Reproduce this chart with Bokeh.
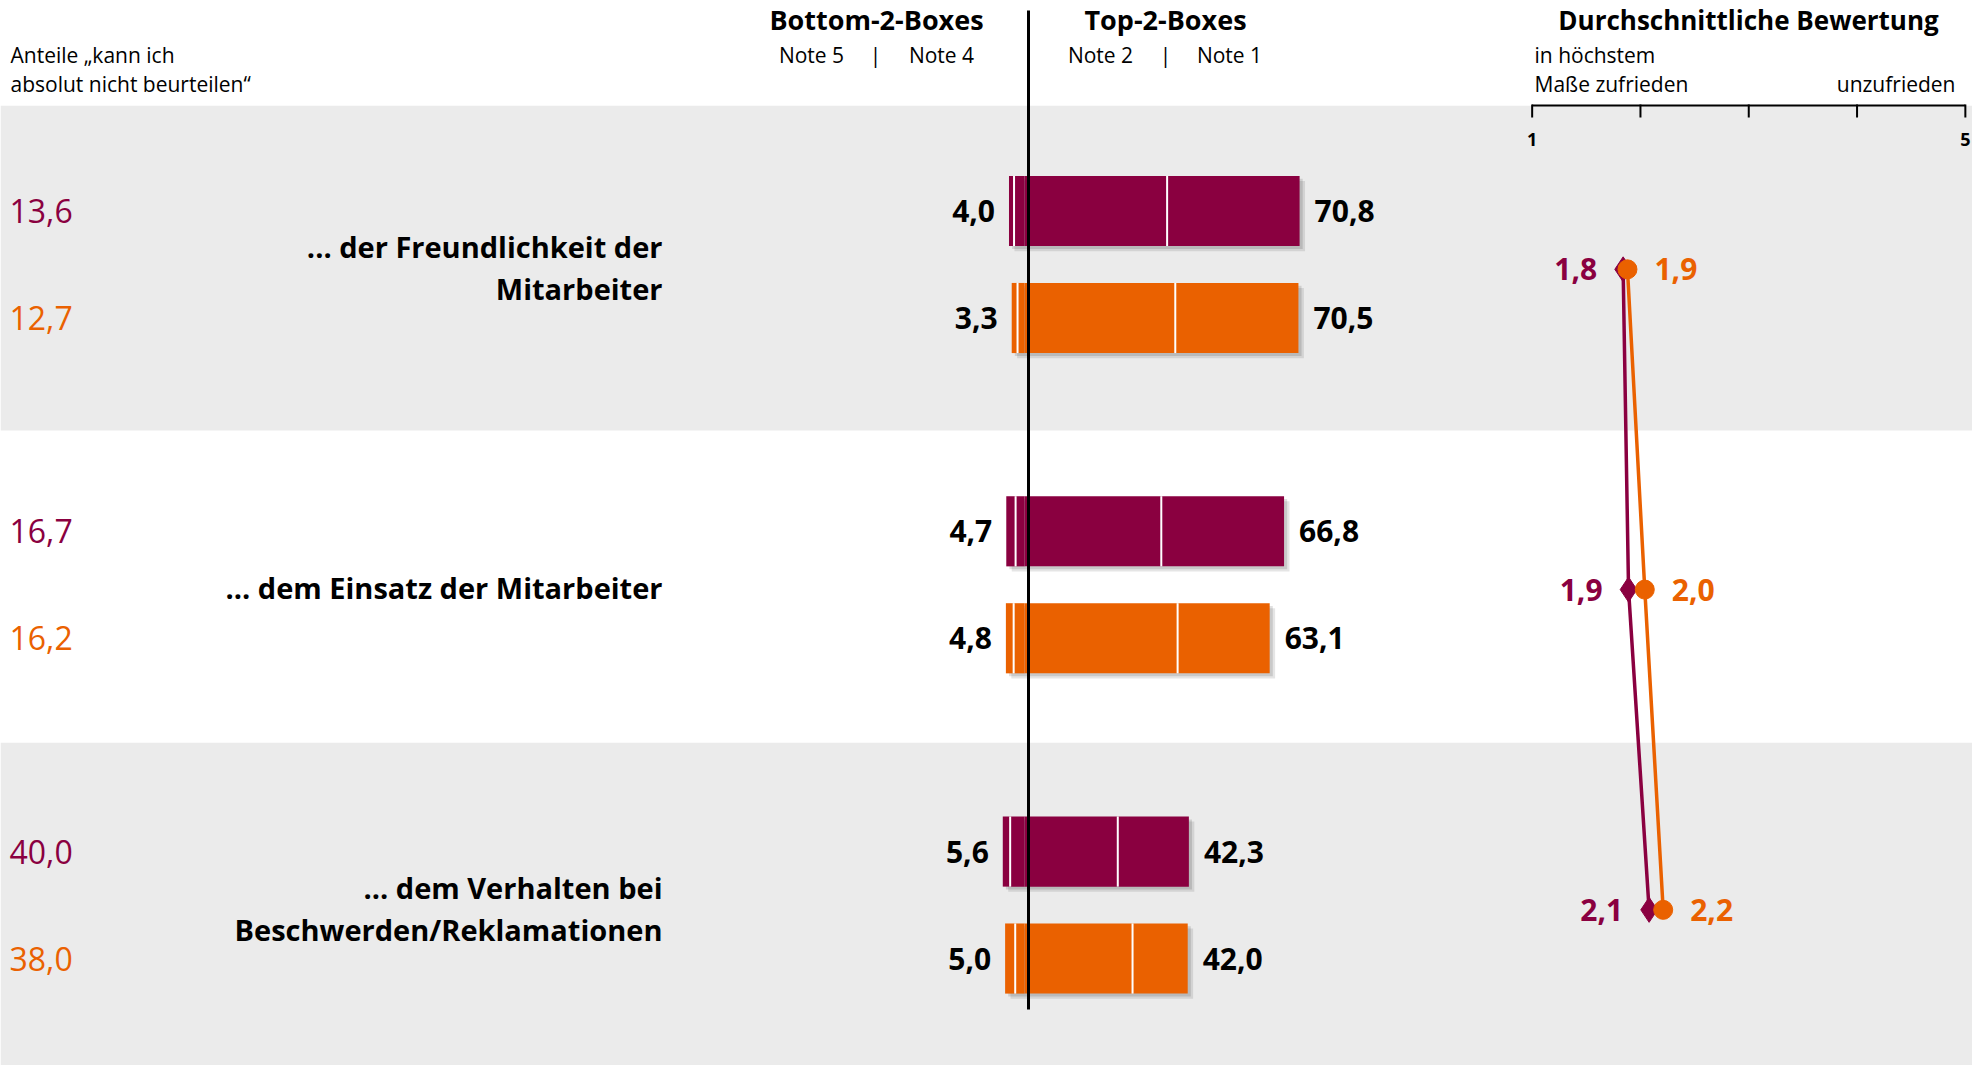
from bokeh.plotting import figure
from bokeh.models import Range1d
from bokeh.core.properties import value
from bokeh.embed import file_html
from bokeh.resources import INLINE

# ---------------- data ----------------
categories = ["... der Freundlichkeit der\nMitarbeiter",
              "... dem Einsatz der Mitarbeiter",
              "... dem Verhalten bei\nBeschwerden/Reklamationen"]

kann_nicht_purple = [13.6, 16.7, 40.0]
kann_nicht_orange = [12.7, 16.2, 38.0]

note5_purple = [1.3, 2.4, 1.9]
note4_purple = [2.7, 2.3, 3.7]
note2_purple = [36.7, 35.2, 24.0]
note1_purple = [34.1, 31.6, 18.3]

note5_orange = [1.5, 2.0, 2.6]
note4_orange = [1.8, 2.8, 2.4]
note2_orange = [38.8, 39.4, 27.8]
note1_orange = [31.7, 23.7, 14.2]

bottom2_purple = [4.0, 4.7, 5.6]
top2_purple = [70.8, 66.8, 42.3]
bottom2_orange = [3.3, 4.8, 5.0]
top2_orange = [70.5, 63.1, 42.0]

mean_purple = [1.84, 1.89, 2.08]
mean_orange = [1.88, 2.04, 2.21]

rating_ticks = [1, 2, 3, 4, 5]
rating_tick_labels = {1: "1", 5: "5"}

header_bottom = "Bottom-2-Boxes"
header_top = "Top-2-Boxes"
header_mean = "Durchschnittliche Bewertung"

# ---------------- style ----------------
PURPLE = "#8A0040"
ORANGE = "#EA6100"
GREY = "#EBEBEB"
FONT = value("Open Sans")

def fmt(v):
    return f"{v:.1f}".replace(".", ",")

W, H = 1972, 1065
p = figure(width=W, height=H, output_backend="svg", toolbar_location=None,
           x_range=Range1d(0, W), y_range=Range1d(H, 0),
           min_border=0, background_fill_color="white", border_fill_color="white")
p.outline_line_color = None
p.axis.visible = False
p.grid.visible = False
p.extra_x_ranges = {"bars": Range1d(-263.58, 244.0), "rating": Range1d(-13.143, 5.066)}
p.extra_y_ranges = {"rows": Range1d(2.501, -0.8244)}

n = len(categories)
rows = list(range(n))

# background bands (alternating, grey on first and third row)
band_edges = [-0.496, 0.518, 1.493, 2.6]
band_rows = [i for i in rows if i % 2 == 0]
p.quad(left=[0] * len(band_rows), right=[W] * len(band_rows),
       top=[band_edges[i] for i in band_rows], bottom=[band_edges[i + 1] for i in band_rows],
       y_range_name="rows", fill_color=GREY, line_color=None)

BAR_H = 0.219
series = [
    (PURPLE, -0.167, note5_purple, note4_purple, note2_purple, note1_purple,
     bottom2_purple, top2_purple, kann_nicht_purple),
    (ORANGE, 0.167, note5_orange, note4_orange, note2_orange, note1_orange,
     bottom2_orange, top2_orange, kann_nicht_orange),
]

for color, off, n5, n4, n2, n1, b2, t2, kn in series:
    ys = [i + off for i in rows]
    lefts = [-(a + b) for a, b in zip(n5, n4)]
    rights = [a + b for a, b in zip(n2, n1)]
    # soft shadow
    p.hbar(y=[y + 0.016 for y in ys], left=[l + 1.4 for l in lefts], right=[r + 1.4 for r in rights],
           height=BAR_H, x_range_name="bars", y_range_name="rows",
           fill_color="#000000", fill_alpha=0.10, line_color=None)
    p.hbar(y=[y + 0.009 for y in ys], left=[l + 0.8 for l in lefts], right=[r + 0.8 for r in rights],
           height=BAR_H, x_range_name="bars", y_range_name="rows",
           fill_color="#000000", fill_alpha=0.12, line_color=None)
    # segments
    p.hbar(y=ys, left=lefts, right=[-v for v in n4], height=BAR_H,
           x_range_name="bars", y_range_name="rows", fill_color=color, line_color=None)
    p.hbar(y=ys, left=[-v for v in n4], right=[0] * n, height=BAR_H,
           x_range_name="bars", y_range_name="rows", fill_color=color, line_color=None)
    p.hbar(y=ys, left=[0] * n, right=n2, height=BAR_H,
           x_range_name="bars", y_range_name="rows", fill_color=color, line_color=None)
    p.hbar(y=ys, left=n2, right=rights, height=BAR_H,
           x_range_name="bars", y_range_name="rows", fill_color=color, line_color=None)
    # white separators
    for sep in ([-v for v in n4], n2):
        p.segment(x0=sep, x1=sep, y0=[y - BAR_H / 2 for y in ys], y1=[y + BAR_H / 2 for y in ys],
                  x_range_name="bars", y_range_name="rows", line_color="white", line_width=2)
    # value labels
    p.text(x=lefts, y=ys, text=[fmt(v) for v in b2], x_range_name="bars", y_range_name="rows",
           x_offset=-14, text_align="right", text_baseline="middle", text_font=FONT,
           text_font_style="bold", text_font_size="30px", text_color="black")
    p.text(x=rights, y=ys, text=[fmt(v) for v in t2], x_range_name="bars", y_range_name="rows",
           x_offset=15, text_align="left", text_baseline="middle", text_font=FONT,
           text_font_style="bold", text_font_size="30px", text_color="black")
    # "kann ich nicht beurteilen" values
    p.text(x=[9] * n, y=ys, text=[fmt(v) for v in kn], y_range_name="rows",
           text_align="left", text_baseline="middle", text_font=FONT,
           text_font_size="32px", text_color=color)

# category labels
LINE_STEP = 0.131
for i, cat in enumerate(categories):
    lines = cat.split("\n")
    m = len(lines)
    for k, line in enumerate(lines):
        p.text(x=[662], y=[i + 0.01 + (k - (m - 1) / 2) * LINE_STEP], text=[line],
               y_range_name="rows", text_align="right", text_baseline="middle",
               text_font=FONT, text_font_style="bold", text_font_size="29px", text_color="black")

# zero line
p.segment(x0=[1028], x1=[1028], y0=[10], y1=[1009], line_color="black", line_width=3)

# rating axis
p.segment(x0=[rating_ticks[0]], x1=[rating_ticks[-1]], y0=[105], y1=[105],
          x_range_name="rating", line_color="black", line_width=2)
p.segment(x0=rating_ticks, x1=rating_ticks, y0=[104] * len(rating_ticks), y1=[117] * len(rating_ticks),
          x_range_name="rating", line_color="black", line_width=2)
for t, lab in rating_tick_labels.items():
    p.text(x=[t], y=[139], text=[lab], x_range_name="rating",
           text_align="center", text_baseline="middle", text_font=FONT, text_font_style="bold",
           text_font_size="18px", text_color="black")

# rating lines & markers
DOT_OFF = 0.015
ry = [i + DOT_OFF for i in rows]
p.line(x=mean_purple, y=ry, x_range_name="rating", y_range_name="rows", line_color=PURPLE, line_width=3.5)
p.line(x=mean_orange, y=ry, x_range_name="rating", y_range_name="rows", line_color=ORANGE, line_width=3.5)
p.scatter(x=mean_purple, y=ry, marker="diamond", size=25, x_range_name="rating", y_range_name="rows",
          fill_color=PURPLE, line_color=PURPLE)
p.scatter(x=mean_orange, y=ry, marker="circle", size=19, x_range_name="rating", y_range_name="rows",
          fill_color=ORANGE, line_color=ORANGE)
p.text(x=mean_purple, y=ry, text=[fmt(v) for v in mean_purple], x_range_name="rating", y_range_name="rows",
       x_offset=-26, text_align="right", text_baseline="middle", text_font=FONT, text_font_style="bold",
       text_font_size="30px", text_color=PURPLE)
p.text(x=mean_orange, y=ry, text=[fmt(v) for v in mean_orange], x_range_name="rating", y_range_name="rows",
       x_offset=27, text_align="left", text_baseline="middle", text_font=FONT, text_font_style="bold",
       text_font_size="30px", text_color=ORANGE)

# headers
def txt(x, y, s, size, bold=False, align="left"):
    p.text(x=[x], y=[y], text=[s], text_align=align, text_baseline="middle", text_font=FONT,
           text_font_style="bold" if bold else "normal", text_font_size=size, text_color="black")

txt(876, 19, header_bottom, "27px", True, "center")
txt(1165, 19, header_top, "27px", True, "center")
txt(1748, 19, header_mean, "26px", True, "center")
txt(811, 54, "Note 5", "21px", False, "center")
txt(875, 54, "|", "21px", False, "center")
txt(941, 54, "Note 4", "21px", False, "center")
txt(1100, 54, "Note 2", "21px", False, "center")
txt(1165, 54, "|", "21px", False, "center")
txt(1229, 54, "Note 1", "21px", False, "center")
txt(10, 54, "Anteile \u201ekann ich", "21px")
txt(10, 83, "absolut nicht beurteilen\u201c", "21px")
txt(1534, 54, "in h\u00f6chstem", "21px")
txt(1534, 83, "Ma\u00dfe zufrieden", "21px")
txt(1955, 83, "unzufrieden", "21px", False, "right")

open("out.html", "w").write(file_html(p, INLINE))
